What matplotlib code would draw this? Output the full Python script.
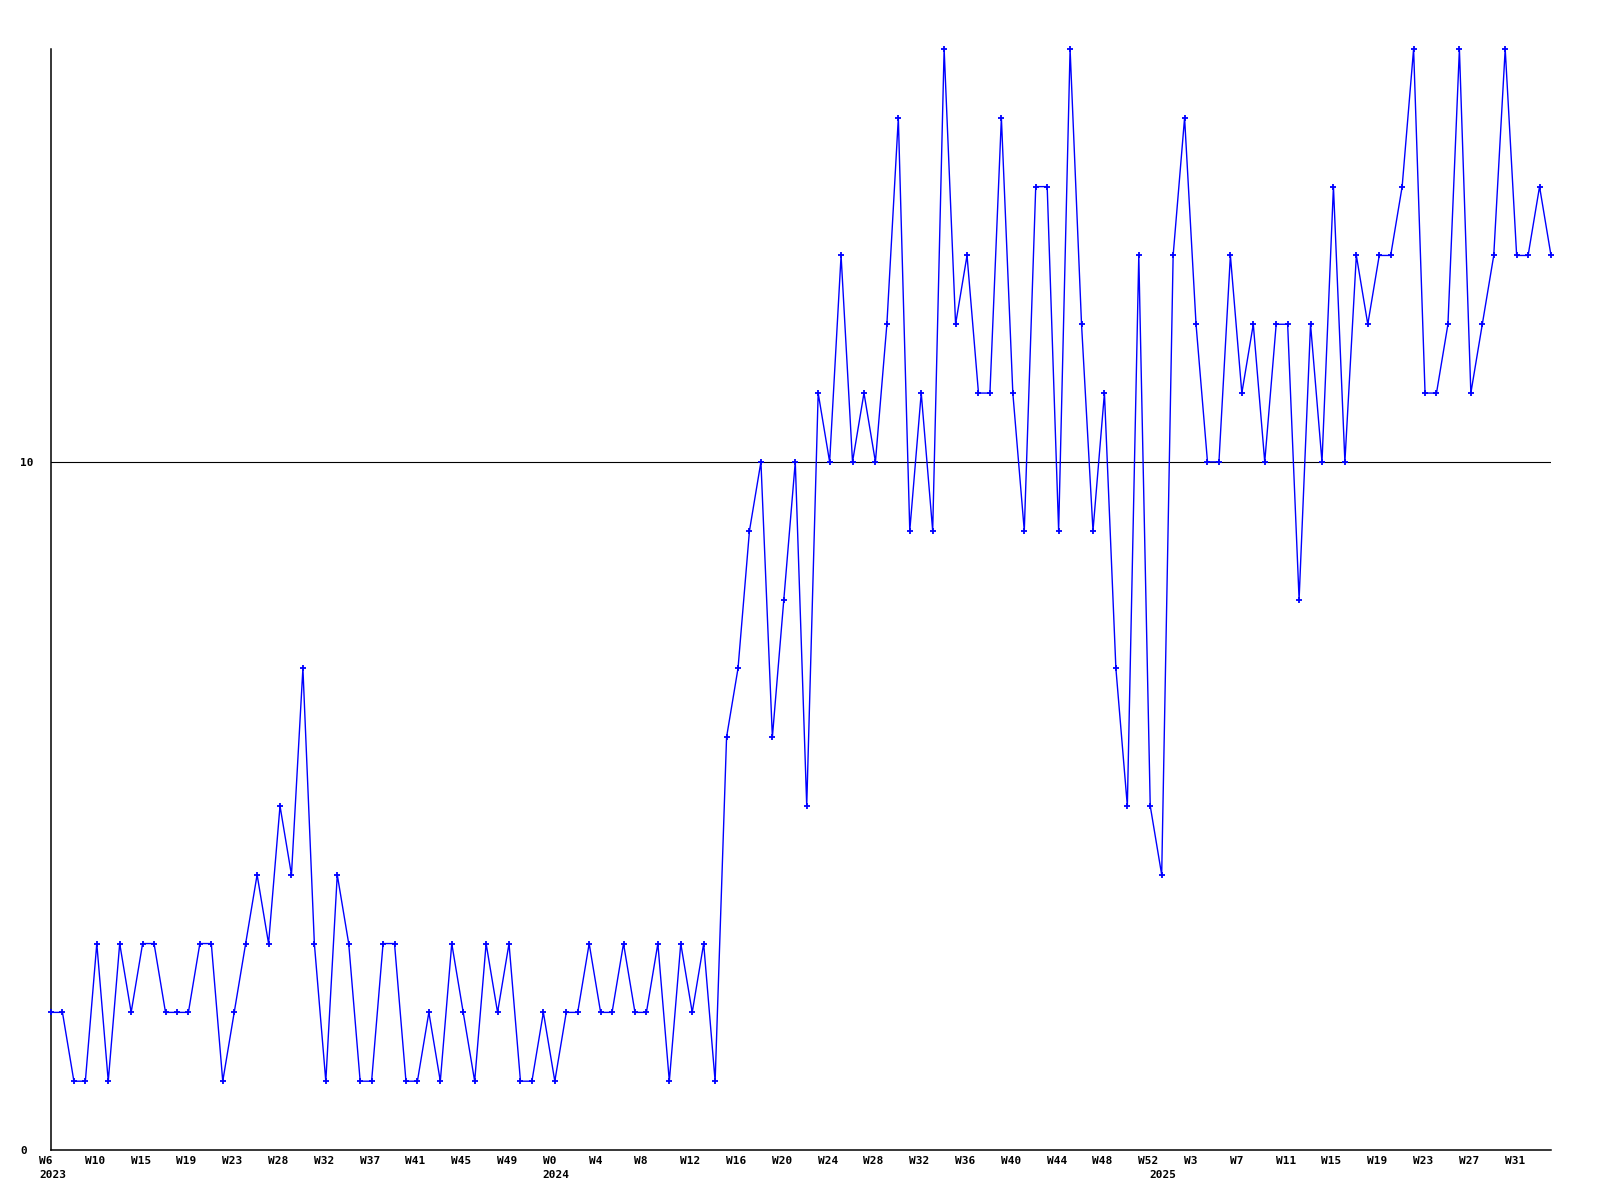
import matplotlib
matplotlib.use("Agg")
import matplotlib.pyplot as plt
from matplotlib.transforms import ScaledTranslation

values = [2, 2, 1, 1, 3, 1, 3, 2, 3, 3, 2, 2, 2, 3, 3, 1, 2, 3, 4, 3,
          5, 4, 7, 3, 1, 4, 3, 1, 1, 3, 3, 1, 1, 2, 1, 3, 2, 1, 3, 2,
          3, 1, 1, 2, 1, 2, 2, 3, 2, 2, 3, 2, 2, 3, 1, 3, 2, 3, 1, 6,
          7, 9, 10, 6, 8, 10, 5, 11, 10, 13, 10, 11, 10, 12, 15, 9, 11, 9, 16, 12,
          13, 11, 11, 15, 11, 9, 14, 14, 9, 16, 12, 9, 11, 7, 5, 13, 5, 4, 13, 15,
          12, 10, 10, 13, 11, 12, 10, 12, 12, 8, 12, 10, 14, 10, 13, 12, 13, 13, 14, 16,
          11, 11, 12, 16, 11, 12, 13, 16, 13, 13, 14, 13]

week_labels = ["W6", "W10", "W15", "W19", "W23", "W28", "W32", "W37", "W41", "W45", "W49",
               "W0", "W4", "W8", "W12", "W16", "W20", "W24", "W28", "W32", "W36", "W40",
               "W44", "W48", "W52", "W3", "W7", "W11", "W15", "W19", "W23", "W27", "W31"]
week_positions = list(range(0, 4 * len(week_labels), 4))

year_labels = ["2023", "2024", "2025"]
year_positions = [0, 44, 97]

y_ticks = [0, 10]
ref_value = 10

x = list(range(len(values)))

fig = plt.figure(figsize=(16, 12), dpi=100)
ax = fig.add_axes([51 / 1600, 50 / 1200, 1500 / 1600, 1101 / 1200])

ax.axhline(ref_value, color="black", linewidth=0.8, zorder=1)
ax.plot(x, values, color="#0000ff", linewidth=1.0, marker="+", markersize=4,
        markeredgewidth=1.3, clip_on=False, zorder=3)

ax.set_xlim(0, len(values) - 1)
ax.set_ylim(0, 16)

for s in ["top", "right"]:
    ax.spines[s].set_visible(False)
for s in ["left", "bottom"]:
    ax.spines[s].set_linewidth(1.1)
    ax.spines[s].set_color("black")

font = dict(family="DejaVu Sans Mono", weight="bold", size=8)

ax.set_yticks(y_ticks)
ax.set_yticklabels([str(v) for v in y_ticks], **font)
ax.tick_params(axis="y", length=0, pad=22.3)
for lab in ax.get_yticklabels():
    lab.set_horizontalalignment("left")

ax.set_xticks(week_positions)
ax.set_xticklabels(week_labels, **font)
ax.tick_params(axis="x", length=0, pad=4)
off = ScaledTranslation(-12 / 100, 0, fig.dpi_scale_trans)
for lab in ax.get_xticklabels():
    lab.set_horizontalalignment("left")
    lab.set_transform(lab.get_transform() + off)

ytrans = ax.get_xaxis_transform() + ScaledTranslation(-12 / 100, -20 / 100, fig.dpi_scale_trans)
for pos, lab in zip(year_positions, year_labels):
    ax.text(pos, 0, lab, transform=ytrans, ha="left", va="top", **font)

fig.savefig("out.png", dpi=100)
